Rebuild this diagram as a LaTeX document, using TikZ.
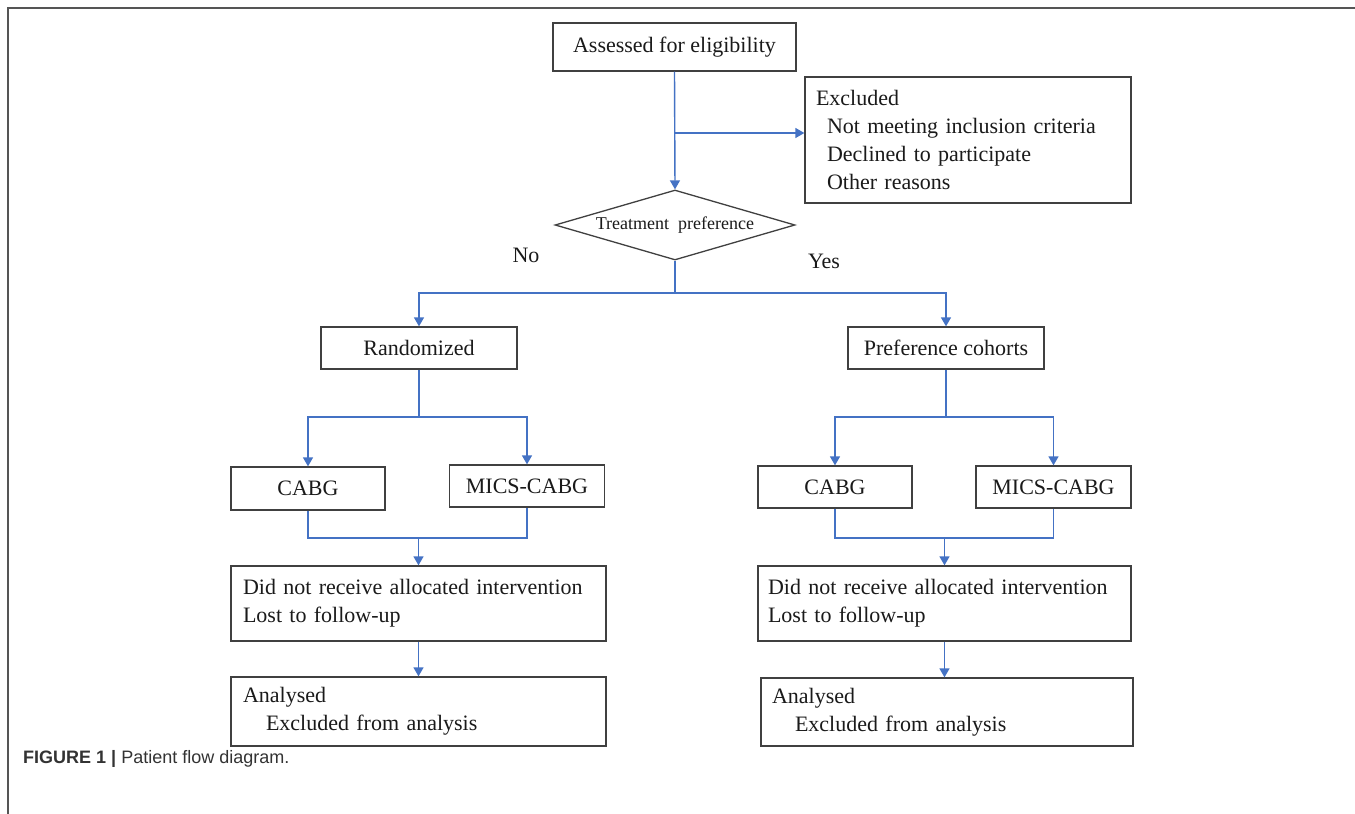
\documentclass[tikz,border=0pt]{standalone}
\usepackage{fontspec}
\setmainfont{Liberation Serif}
\newfontfamily\capfont{Liberation Sans}
\usetikzlibrary{arrows.meta,shapes.geometric}
\definecolor{flowblue}{HTML}{4472C4}
\definecolor{boxgray}{HTML}{404040}
\definecolor{framegray}{HTML}{555555}
\definecolor{txt}{HTML}{1A1A1A}
\begin{document}
\begin{tikzpicture}[x=1pt,y=-1pt,
  box/.style={draw=boxgray,line width=1.3pt,rectangle,inner sep=0pt,text=txt,
    font=\fontsize{22}{27.7}\selectfont},
  multibox/.style={box,align=left,inner xsep=#1,inner ysep=0pt},
  decide/.style={draw=boxgray,line width=1.3pt,diamond,aspect=3.43,inner sep=0pt,text=txt,
    minimum width=240pt,minimum height=70pt,font=\fontsize{18}{20}\selectfont},
  conn/.style={draw=flowblue,line width=1.4pt},
  arr/.style={conn,-{Triangle[width=10pt,length=9pt]}},
  lbl/.style={text=txt,font=\fontsize{22}{24}\selectfont,inner sep=0pt}
]
\useasboundingbox (0,0) rectangle (1355,814);
\fill[white] (0,0) rectangle (1355,814);
% frame
\draw[framegray,line width=1.6pt] (8,814) -- (8,8) -- (1355,8);

% nodes
\node[box,minimum width=243pt,minimum height=48pt] (assess) at (674.5,47) {Assessed for eligibility};
\node[multibox=11pt,text width=304pt,minimum height=126pt] (excl) at (968,140)
  {Excluded\\\hspace*{11pt}Not meeting inclusion criteria\\\hspace*{11pt}Declined to participate\\\hspace*{11pt}Other reasons};
\node[decide] (pref0) at (675,225) {Treatment\ \ preference};
\node[lbl] (no) at (526,255) {No};
\node[lbl] (yes) at (824,261) {Yes};

\node[box,minimum width=196pt,minimum height=42pt] (rand) at (419,348) {Randomized};
\node[box,minimum width=196pt,minimum height=42pt] (pref) at (946,348) {Preference cohorts};

\node[box,minimum width=154pt,minimum height=43pt] (cabgL) at (308,488.5) {CABG};
\node[box,minimum width=155pt,minimum height=42pt] (micsL) at (527,486) {MICS-CABG};
\node[box,minimum width=154pt,minimum height=42pt] (cabgR) at (835,487) {CABG};
\node[box,minimum width=155pt,minimum height=42pt] (micsR) at (1053.5,487) {MICS-CABG};

\node[multibox=12pt,text width=351pt,minimum height=75pt] (didL) at (418.5,603.5)
  {Did not receive allocated intervention\\Lost to follow-up};
\node[multibox=10pt,text width=353pt,minimum height=75pt] (didR) at (944.5,603.5)
  {Did not receive allocated intervention\\Lost to follow-up};
\node[multibox=12pt,text width=351pt,minimum height=69pt] (anaL) at (418.5,711.5)
  {Analysed\\\hspace*{23pt}Excluded from analysis};
\node[multibox=11pt,text width=350pt,minimum height=68pt] (anaR) at (947,712)
  {Analysed\\\hspace*{23pt}Excluded from analysis};

\node[anchor=base west,inner sep=0pt,text=black!80,font=\capfont\fontsize{18}{20}\selectfont] (cap) at (23,763)
  {\textbf{FIGURE 1 |} Patient flow diagram.};

% connectors
\draw[arr] (assess.south) -- (pref0.north);
\coordinate (br1) at (674.5,133);
\draw[arr] (br1) -- (br1 -| excl.west);

\coordinate (split) at (675,293);
\draw[conn] (pref0.south) -- (split);
\draw[arr] (split) -- (split -| rand.north) -- (rand.north);
\draw[arr] (split) -- (split -| pref.north) -- (pref.north);

\coordinate (sL) at (419,417);
\draw[conn] (rand.south) -- (sL);
\draw[arr] (sL) -- (sL -| cabgL.north) -- (cabgL.north);
\draw[arr] (sL) -- (sL -| micsL.north) -- (micsL.north);

\coordinate (sR) at (946,417);
\draw[conn] (pref.south) -- (sR);
\draw[arr] (sR) -- (sR -| cabgR.north) -- (cabgR.north);
\draw[arr] (sR) -- (sR -| micsR.north) -- (micsR.north);

\coordinate (mL) at (418.5,538);
\draw[conn] (cabgL.south) -- (cabgL.south |- mL) -- (micsL.south |- mL) -- (micsL.south);
\draw[arr] (mL) -- (didL.north);
\coordinate (mR) at (944.5,538);
\draw[conn] (cabgR.south) -- (cabgR.south |- mR) -- (micsR.south |- mR) -- (micsR.south);
\draw[arr] (mR) -- (didR.north);

\draw[arr] (didL.south) -- (anaL.north);
\draw[arr] (didR.south) -- (didR.south |- anaR.north);
\end{tikzpicture}
\end{document}
